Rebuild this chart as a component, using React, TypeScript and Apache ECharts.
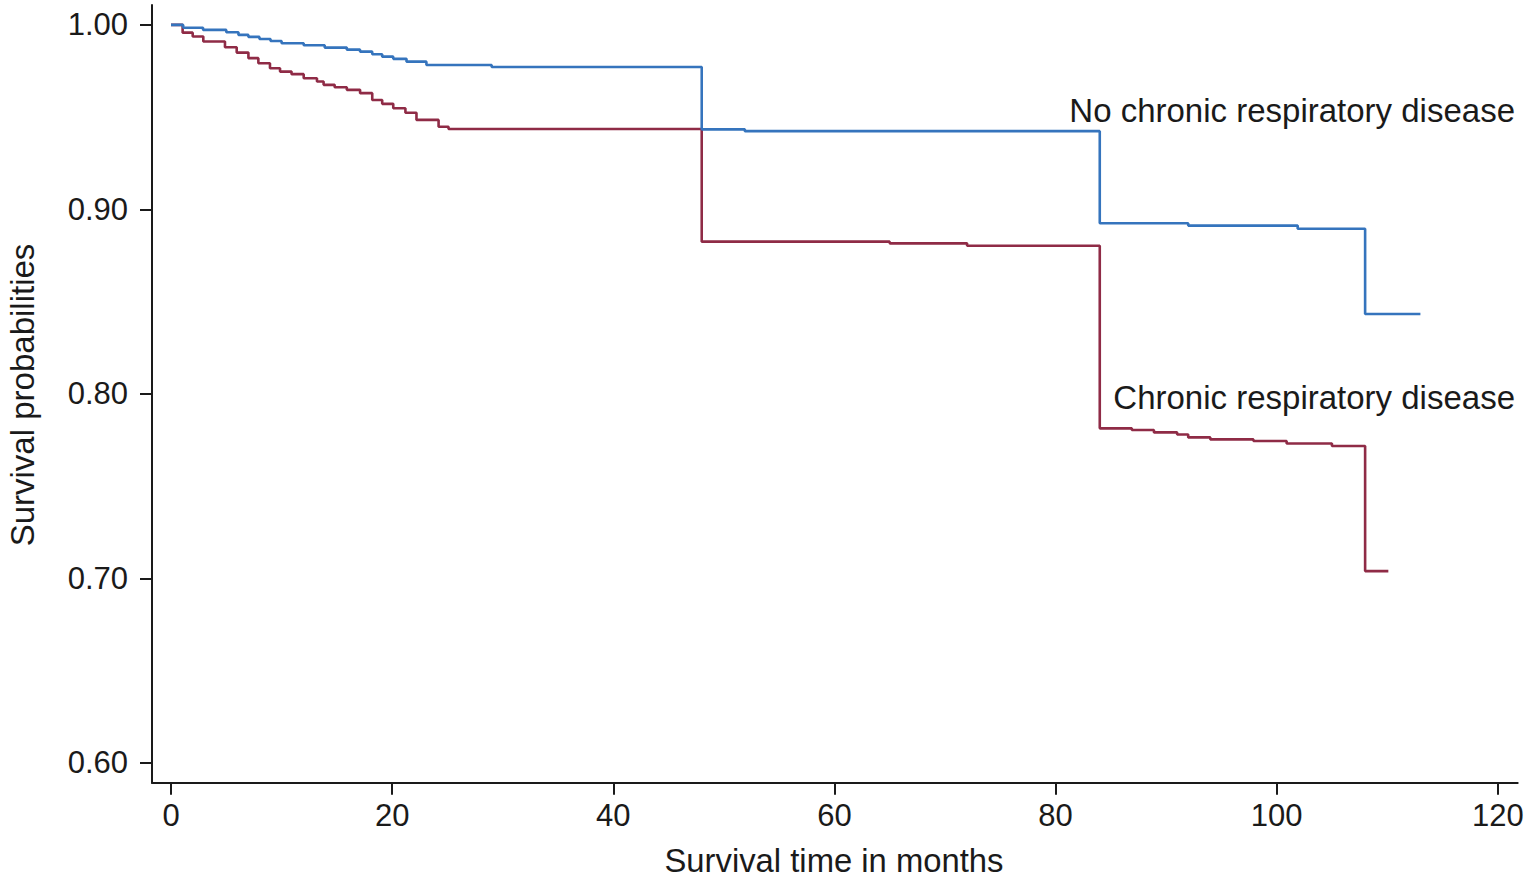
import React, { useEffect, useRef } from "react";
import * as echarts from "echarts";

// Kaplan–Meier estimates
const noCrdTimes = [0, 1.1, 2.9, 5.0, 6.1, 7.0, 8.0, 9.0, 10.0, 12.0, 13.9, 15.9, 17.1, 18.2, 19.1, 20.1, 21.3, 23.1, 29.0, 48.0, 51.9, 84.0, 92.0, 101.9, 108.0, 113.0];
const noCrdSurv = [1.0, 0.9985, 0.9973, 0.996, 0.9946, 0.9935, 0.9924, 0.9913, 0.9901, 0.989, 0.9877, 0.9866, 0.9855, 0.9841, 0.9828, 0.9816, 0.9801, 0.9783, 0.9772, 0.9434, 0.9424, 0.8925, 0.8912, 0.8895, 0.8433, 0.8433];

const crdTimes = [0, 1.05, 1.96, 2.92, 4.88, 5.94, 7.0, 7.9, 8.95, 9.86, 10.9, 12.0, 13.2, 13.8, 14.8, 15.9, 17.1, 18.2, 19.1, 20.1, 21.2, 22.2, 24.2, 25.1, 48.0, 65.0, 72.0, 84.0, 86.9, 88.9, 91.0, 92.0, 94.0, 97.9, 100.9, 105.0, 108.0, 110.1];
const crdSurv = [1.0, 0.9958, 0.9937, 0.991, 0.9879, 0.985, 0.982, 0.9792, 0.9765, 0.9747, 0.9733, 0.9711, 0.9693, 0.9675, 0.9662, 0.9648, 0.963, 0.9593, 0.9572, 0.9548, 0.9524, 0.9485, 0.9448, 0.9436, 0.8825, 0.8816, 0.8803, 0.7813, 0.7804, 0.7791, 0.778, 0.7764, 0.7753, 0.7744, 0.7731, 0.7717, 0.7039, 0.7039];

const xTicks = [0, 20, 40, 60, 80, 100, 120];
const yTicks = [0.6, 0.7, 0.8, 0.9, 1.0];

const seriesNames = ["No chronic respiratory disease", "Chronic respiratory disease"];
const xTitle = "Survival time in months";
const yTitle = "Survival probabilities";

const FONT = "'Liberation Sans', Arial, Helvetica, sans-serif";
const BLUE = "#3574bd";
const RED = "#8f2b46";
const INK = "#1a1a1a";

export default function App() {
  const ref = useRef<HTMLDivElement>(null);

  useEffect(() => {
    document.body.style.margin = "0";
    if (!ref.current) return;
    const chart = echarts.init(ref.current, undefined, { renderer: "svg" });
    const zip = (xs: number[], ys: number[]) => xs.map((x, i) => [x, ys[i]]);

    chart.setOption({
      animation: false,
      backgroundColor: "#ffffff",
      grid: { left: 152, right: 17.3, top: 5, bottom: 101.3, containLabel: false },
      xAxis: {
        type: "value",
        min: -1.72,
        max: 121.8,
        splitLine: { show: false },
        axisLine: { show: true, onZero: false, lineStyle: { color: INK, width: 2 } },
        axisTick: { show: true, length: 12, lineStyle: { color: INK, width: 2 }, customValues: xTicks },
        axisLabel: {
          color: INK,
          fontFamily: FONT,
          fontSize: 31,
          margin: 17,
          customValues: xTicks,
          formatter: (v: number) => String(v),
        },
      },
      yAxis: {
        type: "value",
        min: 0.5892,
        max: 1.0108,
        splitLine: { show: false },
        axisLine: { show: true, onZero: false, lineStyle: { color: INK, width: 2 } },
        axisTick: { show: true, length: 12, lineStyle: { color: INK, width: 2 }, customValues: yTicks },
        axisLabel: {
          color: INK,
          fontFamily: FONT,
          fontSize: 31,
          margin: 24,
          customValues: yTicks,
          formatter: (v: number) => v.toFixed(2),
        },
      },
      graphic: [
        {
          type: "text",
          x: 834,
          y: 860,
          style: { text: xTitle, fill: INK, font: `32.8px ${FONT}`, align: "center", verticalAlign: "middle" },
        },
        {
          type: "text",
          x: 22,
          y: 395,
          rotation: Math.PI / 2,
          style: { text: yTitle, fill: INK, font: `33px ${FONT}`, align: "center", verticalAlign: "middle" },
        },
        {
          type: "text",
          x: 1515,
          y: 110,
          style: { text: seriesNames[0], fill: INK, font: `33px ${FONT}`, align: "right", verticalAlign: "middle" },
        },
        {
          type: "text",
          x: 1515,
          y: 397,
          style: { text: seriesNames[1], fill: INK, font: `33px ${FONT}`, align: "right", verticalAlign: "middle" },
        },
      ],
      series: [
        {
          name: seriesNames[0],
          type: "line",
          step: "end",
          showSymbol: false,
          symbol: "none",
          data: zip(noCrdTimes, noCrdSurv),
          lineStyle: { color: BLUE, width: 2.6 },
          itemStyle: { color: BLUE },
          z: 3,
        },
        {
          name: seriesNames[1],
          type: "line",
          step: "end",
          showSymbol: false,
          symbol: "none",
          data: zip(crdTimes, crdSurv),
          lineStyle: { color: RED, width: 2.6 },
          itemStyle: { color: RED },
          z: 2,
        },
      ],
    });

    return () => chart.dispose();
  }, []);

  return <div ref={ref} style={{ width: 1535, height: 884 }} />;
}
